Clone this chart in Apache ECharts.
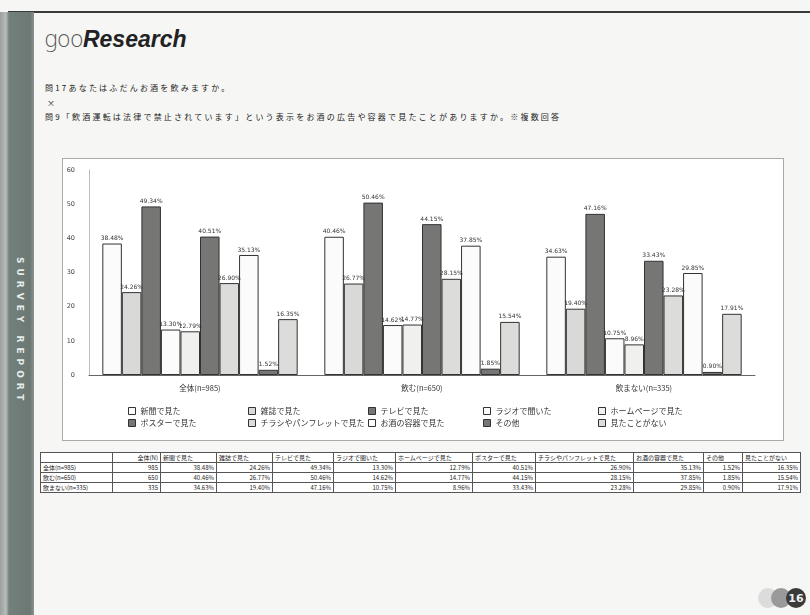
<!DOCTYPE html>
<html><head><meta charset="utf-8">
<script src="https://cdn.jsdelivr.net/npm/echarts@6/dist/echarts.min.js"></script>
<style>
html,body{margin:0;padding:0;width:810px;height:615px;overflow:hidden;background:#f6f6f4;font-family:"Noto Sans CJK JP","Noto Sans",sans-serif;}
#slide{position:absolute;left:0;top:0;width:810px;height:615px;}
#strip{position:absolute;left:0;top:12px;width:34px;height:603px;background:linear-gradient(90deg,#9aa09e 0,#b8bcba 6px,#72807c 9px,#6c7874 30px,#8a918f 34px);}
#stripText{position:absolute;left:11px;top:245px;width:14px;height:175px;color:#e8ecea;font-family:"DejaVu Sans",sans-serif;font-weight:bold;font-size:9px;letter-spacing:5px;writing-mode:vertical-rl;}
#topline{position:absolute;left:8px;top:11px;width:802px;height:2px;background:#3a3a3a;}
#logo{position:absolute;left:44px;top:20px;font-size:23px;color:#222;}
#logo .g{font-family:"DejaVu Sans",sans-serif;font-weight:200;color:#555;letter-spacing:-1px;}
#logo .r{font-family:"Liberation Sans",Arial,sans-serif;font-weight:bold;font-style:italic;}
.q{position:absolute;left:45px;font-size:8px;letter-spacing:2.2px;color:#222;}
#box{position:absolute;left:62px;top:158px;width:720px;height:281px;background:#fff;border:1px solid #aaa;}
#chart{position:absolute;left:0;top:0;width:810px;height:615px;}
#tbl{position:absolute;left:40px;top:452px;border-collapse:collapse;table-layout:fixed;width:760px;font-size:6px;color:#222;background:#fff;}
#tbl td{border:1px solid #555;height:9px;padding:0 2px;white-space:nowrap;line-height:9px;overflow:hidden;}
#tbl td.n{text-align:right;}
#pg{position:absolute;left:0;top:0;}
</style></head>
<body>
<div id="slide">
  <div id="topline"></div>
  <div id="strip"><div id="stripText">SURVEY REPORT</div></div>
  <div id="logo"><span class="g">goo</span><span class="r">Research</span></div>
  <div class="q" style="top:82px">問17あなたはふだんお酒を飲みますか。</div>
  <div class="q" style="top:97px;left:47px">×</div>
  <div class="q" style="top:111px">問9「飲酒運転は法律で禁止されています」という表示をお酒の広告や容器で見たことがありますか。※複数回答</div>
  <div id="box"></div>
  <table id="tbl"><colgroup id="cols"></colgroup></table>
  <svg id="pg" width="810" height="615">
    <circle cx="768" cy="598" r="10" fill="#dcdcdc"/>
    <circle cx="781" cy="598" r="10" fill="#9a9a9a"/>
    <circle cx="796" cy="598" r="10" fill="#3a3a3a"/>
    <text x="796" y="602" font-size="11" font-weight="bold" fill="#eee" text-anchor="middle" font-family="DejaVu Sans">16</text>
  </svg>
</div>
<div id="chart"></div>
<script>
var categories = ['全体(n=985)', '飲む(n=650)', '飲まない(n=335)'];
var counts = [985, 650, 335];
var seriesNames = ['新聞で見た','雑誌で見た','テレビで見た','ラジオで聞いた','ホームページで見た','ポスターで見た','チラシやパンフレットで見た','お酒の容器で見た','その他','見たことがない'];
var shinbun   = [38.48, 40.46, 34.63];
var zasshi    = [24.26, 26.77, 19.40];
var terebi    = [49.34, 50.46, 47.16];
var rajio     = [13.30, 14.62, 10.75];
var homepage  = [12.79, 14.77, 8.96];
var posuta    = [40.51, 44.15, 33.43];
var chirashi  = [26.90, 28.15, 23.28];
var youki     = [35.13, 37.85, 29.85];
var sonota    = [1.52, 1.85, 0.90];
var minai     = [16.35, 15.54, 17.91];
var seriesData = [shinbun, zasshi, terebi, rajio, homepage, posuta, chirashi, youki, sonota, minai];
var yTicks = [0, 10, 20, 30, 40, 50, 60];

var fills = ['#fbfbfb','#d9d9d7','#767674','#fbfbfb','#f0f0ee','#767674','#dcdcda','#fbfbfb','#767674','#dcdcda'];

var chart = echarts.init(document.getElementById('chart'), null, {renderer:'canvas'});
var series = seriesNames.map(function(name, i){
  return {
    name: name, type: 'bar', data: seriesData[i],
    barGap: '0%', barCategoryGap: '12%',
    itemStyle: {color: fills[i], borderColor: '#333', borderWidth: 1},
    label: {show: true, position: 'top', distance: 2, fontSize: 6, color: '#333',
      fontFamily: 'DejaVu Sans', formatter: function(p){ return p.value.toFixed(2) + '%'; }}
  };
});
var legendCols = [128, 248, 368, 483, 598];
var legendRows = [407, 419];
var legends = seriesNames.map(function(name, i){
  return {data: [name], left: legendCols[i % 5], top: legendRows[Math.floor(i / 5)],
    icon: 'rect', itemWidth: 7, itemHeight: 7, itemGap: 0, padding: 0,
    itemStyle: {borderColor: '#333', borderWidth: 1},
    textStyle: {fontSize: 8, color: '#333', fontFamily: 'Noto Sans CJK JP'}};
});
chart.setOption({
  backgroundColor: 'transparent',
  animation: false,
  grid: {left: 89, right: 55, top: 170, height: 205, containLabel: false},
  xAxis: {type: 'category', data: categories,
    axisLine: {lineStyle: {color: '#666'}}, axisTick: {show: false},
    axisLabel: {fontSize: 7.5, color: '#333', margin: 9, fontFamily: 'Noto Sans CJK JP'}},
  yAxis: {type: 'value', min: yTicks[0], max: yTicks[yTicks.length-1], interval: 10,
    axisLine: {show: true, lineStyle: {color: '#bbb'}}, axisTick: {show: false},
    splitLine: {show: false},
    axisLabel: {fontSize: 6.5, color: '#444', margin: 14, fontFamily: 'DejaVu Sans'}},
  legend: legends,
  series: series
});

// table built from the same arrays
var widths = [72, 48, 56, 56, 61, 62, 77, 63, 98, 70, 39, 58];
document.getElementById('cols').innerHTML = widths.map(function(w){ return '<col style="width:' + w + 'px">'; }).join('');
var head = '<tr><td></td><td class="n">全体(N)</td>';
seriesNames.forEach(function(n){ head += '<td>' + n + '</td>'; });
head += '</tr>';
var body = '';
categories.forEach(function(c, r){
  body += '<tr><td>' + c + '</td><td class="n">' + counts[r] + '</td>';
  seriesData.forEach(function(arr){ body += '<td class="n">' + arr[r].toFixed(2) + '%</td>'; });
  body += '</tr>';
});
document.getElementById('tbl').insertAdjacentHTML('beforeend', head + body);
</script>
</body></html>
